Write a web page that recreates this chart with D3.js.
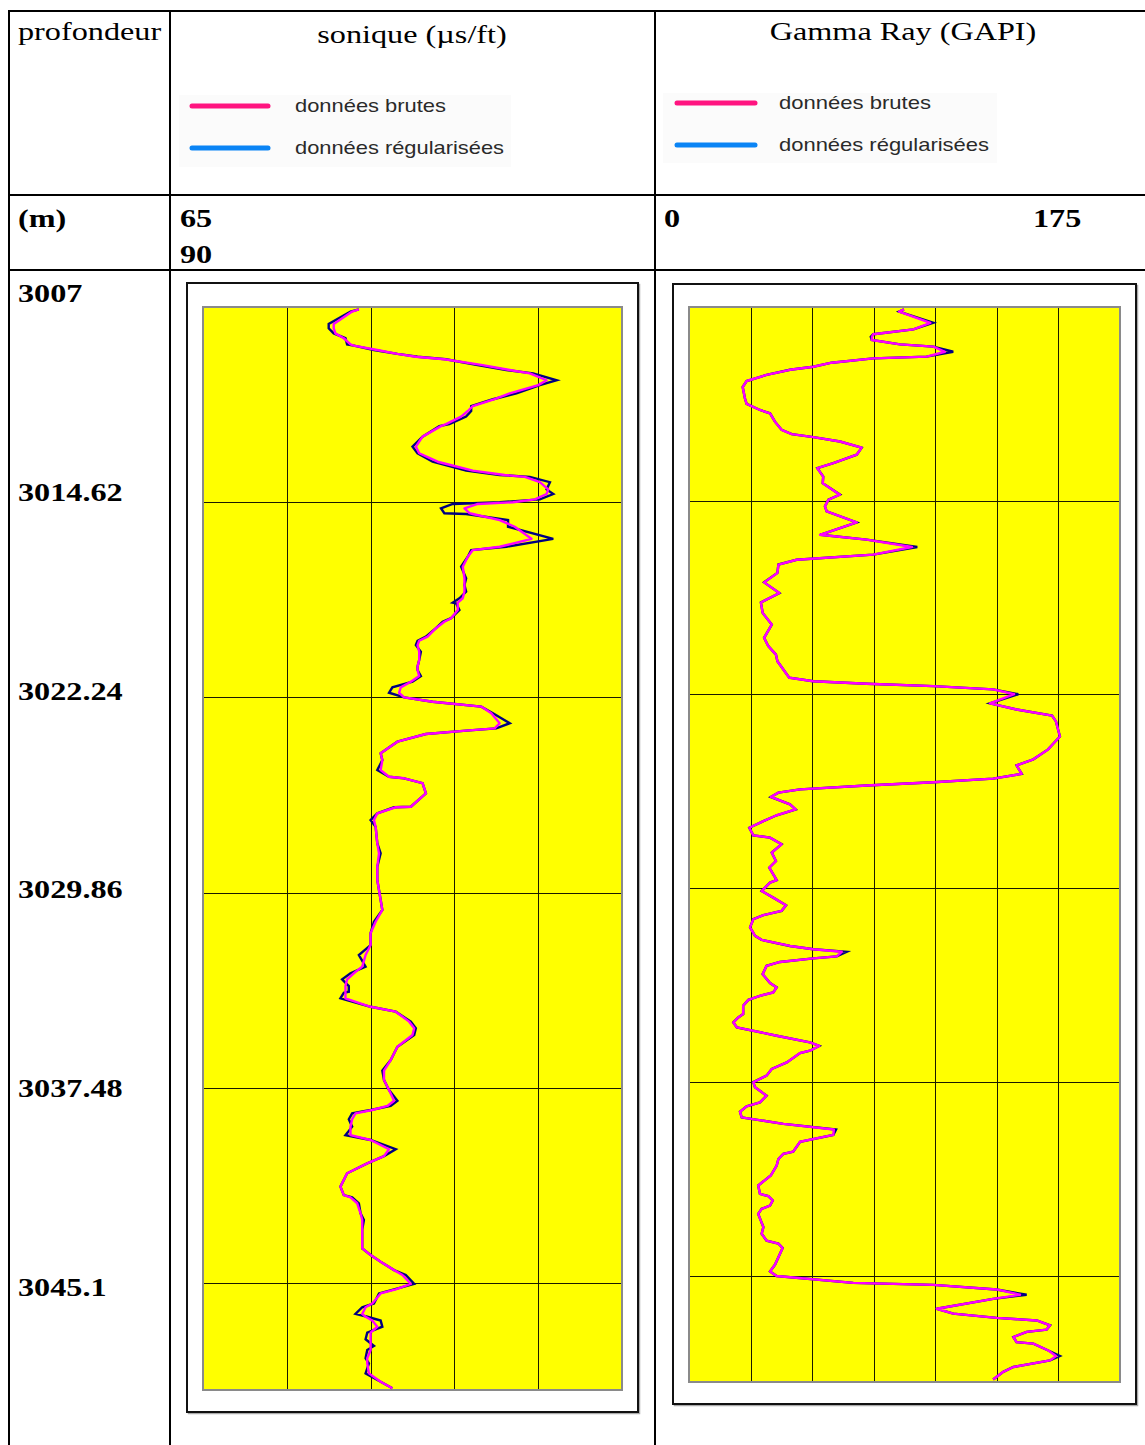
<!DOCTYPE html>
<html>
<head>
<meta charset="utf-8">
<script src="https://cdn.jsdelivr.net/npm/d3@7"></script>
<style>
  body { margin: 0; background: #fff; }
  svg { display: block; }
</style>
</head>
<body>
<svg id="chart" width="1145" height="1445"></svg>
<script>
// ---- data ----
const depthLabels = [3007, 3014.62, 3022.24, 3029.86, 3037.48, 3045.1];
const gridDepths = [3014.62, 3022.24, 3029.86, 3037.48, 3045.1];
const sonTicks = [70, 75, 80, 85];
const gamTicks = [25, 50, 75, 100, 125, 150];

// sonic (us/ft)
const sonDepth = [3007.09, 3007.18, 3007.66, 3007.83, 3008.03, 3008.22, 3008.46, 3008.51, 3008.68, 3008.83,
  3008.94, 3009.04, 3009.26, 3009.46, 3009.59, 3009.86, 3010.05, 3010.37, 3010.60, 3010.87,
  3011.06, 3011.28, 3011.57, 3011.65, 3012.06, 3012.45, 3012.71, 3013.04, 3013.39, 3013.56,
  3013.63, 3013.84, 3014.12, 3014.30, 3014.51, 3014.62, 3014.69, 3014.86, 3015.05, 3015.08,
  3015.32, 3015.58, 3016.05, 3016.36, 3016.49, 3016.75, 3017.14, 3017.59, 3017.85, 3018.11,
  3018.37, 3018.54, 3018.57, 3018.83, 3019.15, 3019.29, 3019.54, 3019.87, 3020.03, 3020.20,
  3020.46, 3020.78, 3021.04, 3021.17, 3021.41, 3021.63, 3021.85, 3022.06, 3022.24, 3022.41,
  3022.60, 3022.86, 3023.25, 3023.45, 3023.54, 3023.67, 3023.97, 3024.42, 3024.69, 3025.08,
  3025.34, 3025.40, 3025.59, 3025.99, 3026.51, 3026.53, 3026.77, 3027.03, 3027.29, 3027.94,
  3028.33, 3028.85, 3029.37, 3029.76, 3030.54, 3031.00, 3031.45, 3031.91, 3032.30, 3032.75,
  3033.01, 3033.25, 3033.51, 3033.73, 3033.77, 3033.99, 3034.32, 3034.51, 3034.90, 3035.16,
  3035.42, 3035.88, 3036.40, 3036.81, 3037.18, 3037.57, 3037.99, 3038.19, 3038.35, 3038.48,
  3038.71, 3039.00, 3039.33, 3039.52, 3039.88, 3040.15, 3040.43, 3040.82, 3041.34, 3041.67,
  3041.76, 3041.99, 3042.38, 3042.64, 3043.03, 3043.75, 3044.01, 3044.27, 3044.60, 3044.79,
  3045.14, 3045.35, 3045.51, 3045.90, 3046.05, 3046.31, 3046.42, 3046.57, 3046.81, 3047.04,
  3047.30, 3047.56, 3047.72, 3048.04, 3048.24, 3048.63, 3048.96, 3049.21];
const sonRaw = [74.3, 73.8, 72.5, 72.5, 72.8, 73.5, 73.6, 74.0, 75.2, 76.6,
  77.8, 79.5, 81.3, 83.1, 84.7, 86.1, 85.1, 83.7, 82.3, 81.0,
  81.0, 80.7, 79.7, 79.1, 78.1, 77.5, 77.8, 78.7, 80.7, 82.7,
  84.5, 85.7, 85.5, 85.9, 85.1, 82.7, 79.9, 79.2, 79.4, 80.7,
  83.2, 83.2, 85.9, 83.1, 81.0, 80.8, 80.4, 80.7, 80.6, 80.7,
  80.3, 79.9, 80.1, 80.3, 79.8, 79.3, 78.9, 78.3, 77.8, 77.7,
  78.0, 77.9, 77.8, 77.8, 78.0, 77.5, 76.3, 76.1, 77.0, 78.7,
  81.6, 82.3, 83.3, 82.5, 80.7, 78.3, 76.6, 75.6, 75.7, 75.4,
  76.1, 77.0, 78.1, 78.3, 77.4, 76.4, 75.4, 75.0, 75.3, 75.4,
  75.6, 75.4, 75.4, 75.5, 75.7, 75.2, 75.0, 75.0, 74.3, 74.7,
  73.8, 73.3, 73.7, 73.7, 73.4, 73.2, 75.0, 76.5, 77.4, 77.7,
  77.6, 76.6, 76.2, 75.7, 75.8, 76.1, 76.6, 76.2, 75.0, 73.9,
  73.7, 73.9, 73.5, 75.0, 76.5, 75.8, 74.8, 73.6, 73.2, 73.4,
  73.9, 74.3, 74.4, 74.6, 74.5, 74.5, 75.0, 75.6, 76.4, 77.1,
  77.6, 76.4, 75.5, 75.2, 74.5, 74.1, 74.8, 75.6, 75.7, 74.8,
  74.7, 75.2, 74.8, 74.7, 74.9, 74.7, 75.6, 76.3];
const sonSmooth = [74.3, 73.9, 72.8, 72.8, 72.9, 73.4, 73.8, 74.0, 75.4, 76.6,
  77.7, 79.4, 81.6, 83.3, 84.5, 85.5, 85.0, 83.3, 82.4, 81.1,
  80.8, 80.4, 79.5, 79.2, 78.1, 77.7, 77.9, 79.0, 81.1, 83.0,
  84.2, 85.1, 85.6, 85.5, 84.8, 83.5, 81.4, 80.6, 80.9, 81.1,
  82.7, 83.6, 84.6, 82.7, 81.1, 80.8, 80.5, 80.6, 80.6, 80.6,
  80.5, 80.2, 80.2, 80.2, 79.8, 79.4, 78.9, 78.4, 77.9, 77.8,
  77.9, 77.9, 77.8, 77.8, 77.9, 77.4, 76.8, 76.7, 77.0, 78.7,
  81.6, 82.2, 82.7, 82.4, 80.7, 78.3, 76.6, 75.6, 75.7, 75.6,
  76.1, 77.0, 78.1, 78.3, 77.4, 76.5, 75.4, 75.2, 75.3, 75.4,
  75.5, 75.4, 75.4, 75.5, 75.7, 75.3, 75.0, 75.0, 74.7, 74.5,
  74.0, 73.6, 73.5, 73.5, 73.5, 73.5, 75.0, 76.5, 77.3, 77.6,
  77.5, 76.6, 76.2, 75.8, 75.8, 76.1, 76.4, 76.0, 75.1, 74.1,
  73.9, 73.8, 73.8, 75.0, 76.1, 75.8, 74.8, 73.6, 73.2, 73.4,
  73.8, 74.2, 74.4, 74.5, 74.5, 74.5, 75.0, 75.6, 76.4, 76.9,
  77.4, 76.5, 75.6, 75.1, 74.7, 74.5, 74.7, 75.1, 75.4, 75.0,
  75.0, 75.0, 75.0, 74.8, 74.8, 74.9, 75.6, 76.3];

// gamma ray (GAPI)
const gamDepth = [3007.09, 3007.18, 3007.62, 3007.88, 3008.07, 3008.17, 3008.30, 3008.47, 3008.56, 3008.76,
  3008.95, 3009.02, 3009.19, 3009.35, 3009.47, 3009.67, 3009.91, 3010.15, 3010.59, 3010.81,
  3011.05, 3011.18, 3011.51, 3011.83, 3012.00, 3012.12, 3012.29, 3012.53, 3012.81, 3013.14,
  3013.34, 3013.67, 3013.93, 3014.38, 3014.58, 3014.84, 3015.04, 3015.47, 3015.96, 3016.15,
  3016.44, 3016.74, 3016.94, 3017.13, 3017.46, 3017.83, 3018.25, 3018.62, 3019.03, 3019.49,
  3020.01, 3020.34, 3020.67, 3020.93, 3021.58, 3021.72, 3021.82, 3021.91, 3022.04, 3022.23,
  3022.59, 3022.83, 3023.07, 3023.30, 3023.89, 3024.40, 3024.79, 3025.03, 3025.36, 3025.55,
  3025.69, 3025.82, 3025.97, 3026.10, 3026.27, 3026.56, 3026.76, 3026.99, 3027.22, 3027.48,
  3027.78, 3027.87, 3028.13, 3028.46, 3028.79, 3029.05, 3029.54, 3029.64, 3029.97, 3030.23,
  3030.53, 3030.75, 3030.92, 3031.08, 3031.40, 3031.73, 3031.89, 3032.13, 3032.26, 3032.36,
  3032.54, 3032.62, 3032.76, 3032.91, 3033.24, 3033.59, 3033.76, 3033.96, 3034.09, 3034.25,
  3034.48, 3034.81, 3034.94, 3035.14, 3035.33, 3035.66, 3035.92, 3036.06, 3036.25, 3036.34,
  3036.71, 3036.97, 3037.23, 3037.49, 3037.69, 3038.02, 3038.28, 3038.44, 3038.65, 3038.87,
  3039.13, 3039.35, 3039.56, 3039.83, 3040.22, 3040.31, 3040.51, 3040.77, 3041.16, 3041.55,
  3041.88, 3041.97, 3042.14, 3042.34, 3042.47, 3042.67, 3043.19, 3043.45, 3043.72, 3043.84,
  3044.01, 3044.37, 3044.67, 3044.93, 3045.11, 3045.38, 3045.46, 3045.64, 3045.85, 3046.01,
  3046.40, 3046.59, 3046.76, 3046.86, 3047.05, 3047.22, 3047.31, 3047.51, 3047.71, 3047.77,
  3048.04, 3048.26, 3048.43, 3048.69, 3048.88, 3049.18];
const gamRaw = [87.3, 85.3, 99.2, 91.1, 74.8, 73.8, 74.2, 85.7, 99.2, 107.3,
  96.5, 74.8, 57.9, 50.5, 41.0, 31.5, 23.4, 21.8, 22.7, 23.4,
  28.8, 32.9, 34.9, 37.6, 41.7, 50.5, 61.3, 70.1, 68.1, 58.6,
  52.1, 54.5, 54.3, 61.3, 56.6, 55.2, 55.9, 68.1, 53.2, 72.1,
  92.7, 74.8, 43.7, 36.3, 35.9, 30.5, 36.7, 29.2, 29.9, 33.6,
  30.5, 32.2, 35.3, 35.9, 40.7, 50.5, 72.1, 99.2, 123.5, 133.7,
  122.2, 133.0, 147.4, 149.0, 150.6, 145.8, 139.8, 133.0, 135.1, 123.5,
  99.2, 72.1, 45.1, 36.3, 33.2, 41.0, 43.3, 35.6, 30.2, 24.5,
  26.1, 32.9, 37.6, 33.6, 35.3, 32.6, 35.6, 32.9, 29.5, 34.2,
  39.4, 37.6, 30.2, 26.1, 24.8, 26.8, 29.5, 41.0, 50.5, 64.0,
  60.0, 50.5, 36.9, 31.5, 29.9, 32.9, 35.6, 34.2, 28.8, 24.1,
  22.0, 22.0, 20.0, 18.0, 19.4, 35.6, 49.1, 52.9, 49.1, 45.1,
  39.7, 33.6, 31.5, 26.1, 26.8, 31.5, 28.8, 23.4, 20.7, 21.4,
  38.3, 59.7, 58.6, 45.1, 42.3, 38.3, 36.3, 35.6, 33.2, 28.1,
  28.8, 32.2, 34.0, 32.9, 29.5, 28.1, 30.2, 29.5, 31.5, 36.3,
  38.0, 36.3, 34.9, 32.9, 35.6, 66.7, 99.2, 124.9, 137.1, 123.5,
  100.6, 107.3, 124.9, 141.2, 146.6, 145.2, 137.1, 131.7, 133.0, 139.8,
  145.9, 150.6, 146.6, 131.7, 127.6, 123.5];
const gamSmooth = [87.3, 85.3, 98.0, 91.1, 74.8, 74.3, 74.2, 85.7, 99.2, 103.9,
  96.5, 74.8, 57.9, 50.5, 41.0, 31.5, 23.4, 21.8, 22.7, 23.4,
  28.8, 32.9, 34.9, 37.6, 41.7, 50.5, 61.3, 70.1, 68.1, 58.6,
  52.1, 54.5, 54.3, 61.3, 56.6, 55.2, 55.9, 68.1, 53.2, 72.1,
  90.5, 74.8, 43.7, 36.3, 35.9, 30.5, 36.7, 29.2, 29.9, 33.6,
  30.5, 32.2, 35.3, 35.9, 40.7, 50.5, 72.1, 99.2, 123.5, 132.0,
  122.2, 133.0, 147.4, 149.0, 150.6, 145.8, 139.8, 133.0, 135.1, 123.5,
  99.2, 72.1, 45.1, 36.3, 33.2, 41.0, 43.3, 35.6, 30.2, 24.5,
  26.1, 32.9, 37.6, 33.6, 35.3, 32.6, 35.6, 32.9, 29.5, 34.2,
  39.4, 37.6, 30.2, 26.1, 24.8, 26.8, 29.5, 41.0, 50.5, 62.0,
  60.0, 50.5, 36.9, 31.5, 29.9, 32.9, 35.6, 34.2, 28.8, 24.1,
  22.0, 22.0, 20.0, 18.0, 19.4, 35.6, 49.1, 52.9, 49.1, 45.1,
  39.7, 33.6, 31.5, 26.1, 26.8, 31.5, 28.8, 23.4, 20.7, 21.4,
  38.3, 58.8, 58.6, 45.1, 42.3, 38.3, 36.3, 35.6, 33.2, 28.1,
  28.8, 32.2, 34.0, 32.9, 29.5, 28.1, 30.2, 29.5, 31.5, 36.3,
  38.0, 36.3, 34.9, 32.9, 35.6, 66.7, 99.2, 124.9, 134.4, 123.5,
  100.6, 107.3, 124.9, 141.2, 146.6, 145.2, 137.1, 131.7, 133.0, 139.8,
  145.9, 149.0, 146.6, 131.7, 127.6, 123.5];

const legendItems = ["données brutes", "données régularisées"];
const legendColors = ["#ff1480", "#0a84f5"];

// ---- drawing ----
const svg = d3.select("#chart");
const serif = "'Liberation Serif', 'Times New Roman', serif";
const depthTop = 3007, depthBottom = 3049.28;

// table text is horizontally stretched in the original scan
function tableText(x, y, str, opts) {
  opts = opts || {};
  svg.append("text")
    .attr("transform", "translate(" + x + "," + y + ") scale(1.24,1)")
    .attr("text-anchor", opts.anchor || "start")
    .attr("font-family", serif)
    .attr("font-size", opts.size || 26)
    .attr("font-weight", opts.bold ? "bold" : "normal")
    .attr("fill", "#000")
    .text(str);
}

// table grid
const tbl = svg.append("g").attr("stroke", "#000").attr("stroke-width", 2);
tbl.append("line").attr("x1", 8).attr("x2", 1145).attr("y1", 11).attr("y2", 11);
tbl.append("line").attr("x1", 8).attr("x2", 1145).attr("y1", 195).attr("y2", 195);
tbl.append("line").attr("x1", 8).attr("x2", 1145).attr("y1", 270).attr("y2", 270);
[9, 170, 655].forEach(x => {
  tbl.append("line").attr("x1", x).attr("x2", x).attr("y1", 10).attr("y2", 1445);
});

// header texts
tableText(18, 40, "profondeur");
tableText(412, 43, "sonique (µs/ft)", { anchor: "middle" });
tableText(903, 40, "Gamma Ray (GAPI)", { anchor: "middle" });
tableText(18, 227, "(m)", { bold: true });
tableText(180, 227, "65", { bold: true });
tableText(180, 263, "90", { bold: true });
tableText(664, 227, "0", { bold: true });
tableText(1033, 227, "175", { bold: true });

// depth labels in the left column
const yLab = d3.scaleLinear().domain([3007, 3045.1]).range([302, 1296]);
depthLabels.forEach(d => tableText(18, yLab(d), String(d), { bold: true }));

// legends
function legend(x0, y0, x1, y1, lineX, textX, rowY, widths) {
  const g = svg.append("g");
  g.append("rect").attr("x", x0).attr("y", y0)
    .attr("width", x1 - x0).attr("height", y1 - y0).attr("fill", "#fbfbfb");
  legendItems.forEach((name, i) => {
    g.append("line")
      .attr("x1", lineX[0]).attr("x2", lineX[1])
      .attr("y1", rowY[i]).attr("y2", rowY[i])
      .attr("stroke", legendColors[i]).attr("stroke-width", 5)
      .attr("stroke-linecap", "round");
    g.append("text")
      .attr("x", textX).attr("y", rowY[i] + 6)
      .attr("font-family", "'Liberation Sans', Arial, sans-serif")
      .attr("font-size", 19)
      .attr("fill", "#2a2a2a")
      .attr("textLength", widths[i])
      .attr("lengthAdjust", "spacingAndGlyphs")
      .text(name);
  });
}
legend(179, 95, 511, 167, [192, 268], 295, [106, 148], [151, 209]);
legend(663, 93, 997, 163, [677, 755], 779, [103, 145], [152, 210]);

// tracks
function track(cfg) {
  const x = d3.scaleLinear().domain(cfg.domain).range([cfg.left, cfg.right]);
  const y = d3.scaleLinear().domain([depthTop, depthBottom]).range([cfg.top, cfg.bottom]);
  const g = svg.append("g");

  // outer frame with a faint shadow
  g.append("rect")
    .attr("x", cfg.frame[0] + 1.5).attr("y", cfg.frame[1] + 1.5)
    .attr("width", cfg.frame[2] - cfg.frame[0]).attr("height", cfg.frame[3] - cfg.frame[1])
    .attr("fill", "none").attr("stroke", "#aaa").attr("stroke-width", 1.5);
  g.append("rect")
    .attr("x", cfg.frame[0]).attr("y", cfg.frame[1])
    .attr("width", cfg.frame[2] - cfg.frame[0]).attr("height", cfg.frame[3] - cfg.frame[1])
    .attr("fill", "#fff").attr("stroke", "#111").attr("stroke-width", 2);

  // plot area
  g.append("rect")
    .attr("x", cfg.left).attr("y", cfg.top)
    .attr("width", cfg.right - cfg.left).attr("height", cfg.bottom - cfg.top)
    .attr("fill", "#ffff00");

  const grid = g.append("g").attr("stroke", "#1a1a00").attr("stroke-width", 1);
  grid.selectAll("line.v").data(cfg.ticks).enter().append("line")
    .attr("x1", d => Math.round(x(d)) + 0.5).attr("x2", d => Math.round(x(d)) + 0.5)
    .attr("y1", cfg.top).attr("y2", cfg.bottom);
  grid.selectAll("line.h").data(gridDepths).enter().append("line")
    .attr("x1", cfg.left).attr("x2", cfg.right)
    .attr("y1", d => Math.round(y(d)) + 0.5).attr("y2", d => Math.round(y(d)) + 0.5);

  g.append("rect")
    .attr("x", cfg.left).attr("y", cfg.top)
    .attr("width", cfg.right - cfg.left).attr("height", cfg.bottom - cfg.top)
    .attr("fill", "none").attr("stroke", "#8a8a8a").attr("stroke-width", 2);

  const line = d3.line().x(d => x(d[1])).y(d => y(d[0]));
  const raw = cfg.depth.map((d, i) => [d, cfg.raw[i]]);
  const smooth = cfg.depth.map((d, i) => [d, cfg.smooth[i]]);

  g.append("path").datum(raw).attr("d", line)
    .attr("fill", "none").attr("stroke", "#000080").attr("stroke-width", 2.4)
    .attr("stroke-linejoin", "miter");
  g.append("path").datum(smooth).attr("d", line)
    .attr("fill", "none").attr("stroke", "#ff00ff").attr("stroke-width", 2.4)
    .attr("stroke-linejoin", "round");
}

track({
  domain: [65, 90], ticks: sonTicks,
  left: 203, right: 622, top: 307, bottom: 1390,
  frame: [187, 283, 638, 1412],
  depth: sonDepth, raw: sonRaw, smooth: sonSmooth
});

track({
  domain: [0, 175], ticks: gamTicks,
  left: 689, right: 1120, top: 307, bottom: 1382,
  frame: [673, 284, 1136, 1404],
  depth: gamDepth, raw: gamRaw, smooth: gamSmooth
});
</script>
</body>
</html>
